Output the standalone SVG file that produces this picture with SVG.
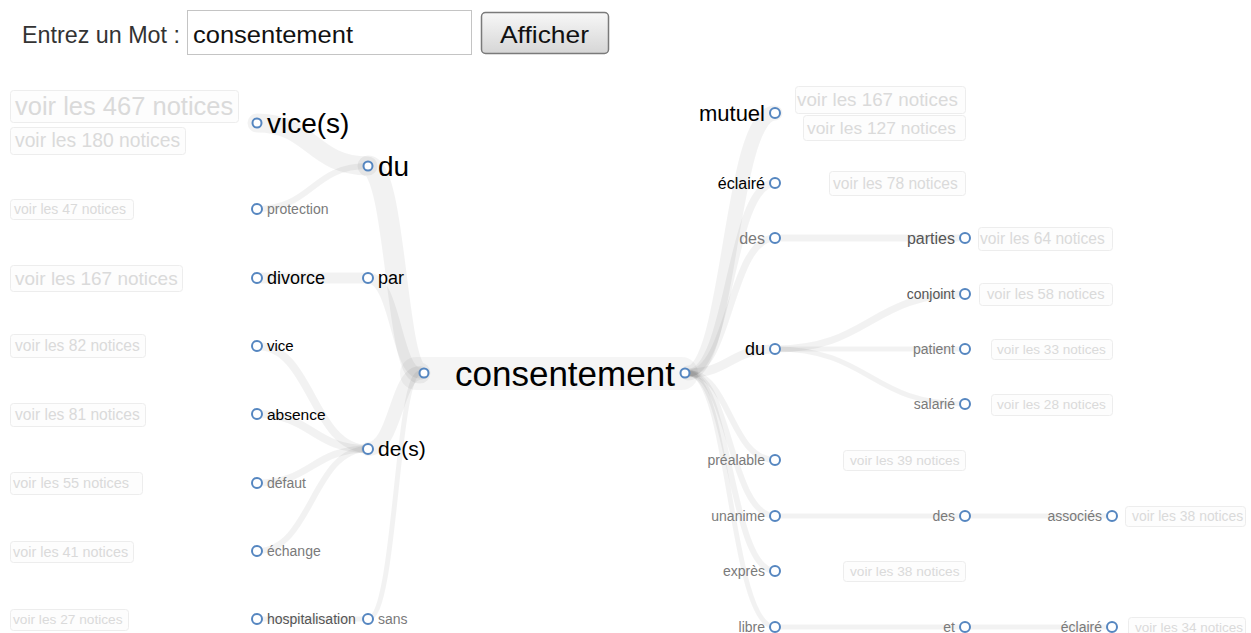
<svg xmlns="http://www.w3.org/2000/svg" width="1251" height="633" viewBox="0 0 1251 633">
<defs>
<linearGradient id="btn" x1="0" y1="0" x2="0" y2="1">
<stop offset="0" stop-color="#f7f7f7"/>
<stop offset="1" stop-color="#d6d6d6"/>
</linearGradient>
</defs>
<style>
text{font-family:"Liberation Sans",Arial,sans-serif}
.band{fill:none;stroke:#000;stroke-opacity:0.05;stroke-linecap:round}
.dot{fill:#fff;stroke:#5586c0;stroke-width:2}
.k{fill:#000}
.g{fill:#7a7a7a}
.d{fill:#555}
.vb{fill:#fdfdfd;stroke:#ededed;stroke-width:1}
.vt{fill:#dadada}
</style>
<rect width="1251" height="633" fill="#fff"/>

<g id="header">
<text x="22" y="43" font-size="24" fill="#333" textLength="158" lengthAdjust="spacingAndGlyphs">Entrez un Mot :</text>
<rect x="187.5" y="10.5" width="284" height="44" fill="#fff" stroke="#c4c4c4"/>
<text x="193" y="43" font-size="24" fill="#111" textLength="160" lengthAdjust="spacingAndGlyphs">consentement</text>
<rect x="481.5" y="12.5" width="127" height="41" rx="4" fill="url(#btn)" stroke="#7a7a7a" stroke-width="1.5"/>
<text x="500" y="43" font-size="24" fill="#111" textLength="89" lengthAdjust="spacingAndGlyphs">Afficher</text>
</g>

<g id="connectors">
<rect x="400" y="357" width="298" height="33" rx="16" fill="#000" fill-opacity="0.04"/>
<path class="band" stroke-width="21" d="M368,166 C396,166 396,373 420,373"/>
<path class="band" stroke-width="19" d="M257,123 C312,123 312,166 368,166"/>
<path class="band" stroke-width="6" d="M257,209 C312,209 312,166 368,166"/>
<path class="band" stroke-width="11" d="M368,278 C396,278 396,373 420,373"/>
<path class="band" stroke-width="11" d="M257,278 L368,278"/>
<path class="band" stroke-width="14" d="M368,449 C396,449 396,373 420,373"/>
<path class="band" stroke-width="8" d="M257,346 C312,346 312,449 368,449"/>
<path class="band" stroke-width="8" d="M257,414 C312,414 312,449 368,449"/>
<path class="band" stroke-width="7" d="M257,483 C312,483 312,449 368,449"/>
<path class="band" stroke-width="6" d="M257,551 C312,551 312,449 368,449"/>
<path class="band" stroke-width="5" d="M368,619 C396,619 396,373 420,373"/>
<path class="band" stroke-width="5" d="M257,619 L368,619"/>
<path class="band" stroke-width="15" d="M688,373 C730,373 730,113 775,113"/>
<path class="band" stroke-width="8" d="M688,373 C730,373 730,183 775,183"/>
<path class="band" stroke-width="7" d="M688,373 C730,373 730,238 775,238"/>
<path class="band" stroke-width="9" d="M688,373 C730,373 730,349 775,349"/>
<path class="band" stroke-width="6" d="M688,373 C730,373 730,460 775,460"/>
<path class="band" stroke-width="6" d="M688,373 C730,373 730,516 775,516"/>
<path class="band" stroke-width="6" d="M688,373 C730,373 730,571 775,571"/>
<path class="band" stroke-width="5" d="M688,373 C730,373 730,627 775,627"/>
<path class="band" stroke-width="7" d="M775,238 L965,238"/>
<path class="band" stroke-width="7" d="M775,349 C870,349 870,294 965,294"/>
<path class="band" stroke-width="5" d="M775,349 L965,349"/>
<path class="band" stroke-width="5" d="M775,349 C870,349 870,404 965,404"/>
<path class="band" stroke-width="5" d="M775,516 L965,516"/>
<path class="band" stroke-width="5" d="M965,516 L1112,516"/>
<path class="band" stroke-width="5" d="M775,627 L965,627"/>
<path class="band" stroke-width="5" d="M965,627 L1112,627"/>
</g>

<g id="n-consentement">
<circle class="dot" cx="424" cy="373" r="4.5" stroke="#7ea2cc"/>
<text class="k" x="455" y="385.5" font-size="35">consentement</text>
<circle class="dot" cx="685" cy="373" r="4.5" stroke="#7ea2cc"/>
</g>

<g id="n-vices">
<circle class="dot" cx="257" cy="123" r="4.5"/>
<text class="k" x="267" y="132.5" font-size="28">vice(s)</text>
</g>
<g id="n-du-left">
<circle class="dot" cx="368" cy="166" r="4.5"/>
<text class="k" x="378" y="176" font-size="28">du</text>
</g>
<g id="n-protection">
<circle class="dot" cx="257" cy="209" r="5"/>
<text class="g" x="267" y="214" font-size="14">protection</text>
</g>
<g id="n-divorce">
<circle class="dot" cx="257" cy="278" r="5"/>
<text class="k" x="267" y="284" font-size="18">divorce</text>
</g>
<g id="n-par">
<circle class="dot" cx="368" cy="278" r="5"/>
<text class="k" x="378" y="284" font-size="18">par</text>
</g>
<g id="n-vice">
<circle class="dot" cx="257" cy="346" r="5"/>
<text class="k" x="267" y="351" font-size="15">vice</text>
</g>
<g id="n-absence">
<circle class="dot" cx="257" cy="414" r="5"/>
<text class="k" x="267" y="419.5" font-size="15.5">absence</text>
</g>
<g id="n-des-left">
<circle class="dot" cx="368" cy="449" r="5"/>
<text class="k" x="378" y="456" font-size="21">de(s)</text>
</g>
<g id="n-defaut">
<circle class="dot" cx="257" cy="483" r="5"/>
<text class="g" x="267" y="488" font-size="14">défaut</text>
</g>
<g id="n-echange">
<circle class="dot" cx="257" cy="551" r="5"/>
<text class="g" x="267" y="556" font-size="14">échange</text>
</g>
<g id="n-hospitalisation">
<circle class="dot" cx="257" cy="619" r="5"/>
<text class="d" x="267" y="624" font-size="14">hospitalisation</text>
</g>
<g id="n-sans">
<circle class="dot" cx="368" cy="619" r="5"/>
<text class="g" x="378" y="624" font-size="14">sans</text>
</g>

<g id="n-mutuel">
<circle class="dot" cx="775" cy="113" r="5"/>
<text class="k" x="765" y="120.7" font-size="22" text-anchor="end">mutuel</text>
</g>
<g id="n-eclaire">
<circle class="dot" cx="775" cy="183" r="5"/>
<text class="k" x="765" y="188.6" font-size="16" text-anchor="end">éclairé</text>
</g>
<g id="n-des-r">
<circle class="dot" cx="775" cy="238" r="5"/>
<text class="g" x="765" y="243.6" font-size="16" text-anchor="end">des</text>
</g>
<g id="n-du-r">
<circle class="dot" cx="775" cy="349" r="5"/>
<text class="k" x="765" y="355" font-size="18" text-anchor="end">du</text>
</g>
<g id="n-prealable">
<circle class="dot" cx="775" cy="460" r="5"/>
<text class="g" x="765" y="465" font-size="14" text-anchor="end">préalable</text>
</g>
<g id="n-unanime">
<circle class="dot" cx="775" cy="516" r="5"/>
<text class="g" x="765" y="521" font-size="14" text-anchor="end">unanime</text>
</g>
<g id="n-expres">
<circle class="dot" cx="775" cy="571" r="5"/>
<text class="g" x="765" y="576" font-size="14" text-anchor="end">exprès</text>
</g>
<g id="n-libre">
<circle class="dot" cx="775" cy="627" r="5"/>
<text class="g" x="765" y="632" font-size="14" text-anchor="end">libre</text>
</g>
<g id="n-parties">
<circle class="dot" cx="965" cy="238" r="5"/>
<text class="d" x="955" y="243.6" font-size="16" text-anchor="end">parties</text>
</g>
<g id="n-conjoint">
<circle class="dot" cx="965" cy="294" r="5"/>
<text class="d" x="955" y="299" font-size="14" text-anchor="end">conjoint</text>
</g>
<g id="n-patient">
<circle class="dot" cx="965" cy="349" r="5"/>
<text class="g" x="955" y="354" font-size="14" text-anchor="end">patient</text>
</g>
<g id="n-salarie">
<circle class="dot" cx="965" cy="404" r="5"/>
<text class="g" x="955" y="409" font-size="14" text-anchor="end">salarié</text>
</g>
<g id="n-des-r2">
<circle class="dot" cx="965" cy="516" r="5"/>
<text class="g" x="955" y="521" font-size="14" text-anchor="end">des</text>
</g>
<g id="n-et">
<circle class="dot" cx="965" cy="627" r="5"/>
<text class="g" x="955" y="632" font-size="14" text-anchor="end">et</text>
</g>
<g id="n-associes">
<circle class="dot" cx="1112" cy="516" r="5"/>
<text class="g" x="1102" y="521" font-size="14" text-anchor="end">associés</text>
</g>
<g id="n-eclaire2">
<circle class="dot" cx="1112" cy="627" r="5"/>
<text class="g" x="1102" y="632" font-size="14" text-anchor="end">éclairé</text>
</g>

<g id="notices">
<g id="v467"><rect class="vb" x="10.5" y="90.5" width="228" height="32" rx="3"/><text class="vt" x="15" y="115" font-size="25.5">voir les 467 notices</text></g>
<g id="v180"><rect class="vb" x="10.5" y="127.5" width="175" height="27" rx="3"/><text class="vt" x="15" y="147.3" font-size="19.3">voir les 180 notices</text></g>
<g id="v47"><rect class="vb" x="10.5" y="199.5" width="123" height="20" rx="3"/><text class="vt" x="14" y="214" font-size="14">voir les 47 notices</text></g>
<g id="v167l"><rect class="vb" x="10.5" y="265.5" width="172" height="26" rx="3"/><text class="vt" x="15" y="284.6" font-size="19">voir les 167 notices</text></g>
<g id="v82"><rect class="vb" x="10.5" y="334.5" width="135" height="23" rx="3"/><text class="vt" x="15" y="351" font-size="15.6">voir les 82 notices</text></g>
<g id="v81"><rect class="vb" x="10.5" y="403.5" width="135" height="23" rx="3"/><text class="vt" x="15" y="420" font-size="15.6">voir les 81 notices</text></g>
<g id="v55"><rect class="vb" x="10.5" y="472.5" width="132" height="22" rx="3"/><text class="vt" x="13" y="488" font-size="14.5">voir les 55 notices</text></g>
<g id="v41"><rect class="vb" x="10.5" y="541.5" width="123" height="21" rx="3"/><text class="vt" x="13" y="556.5" font-size="14.4">voir les 41 notices</text></g>
<g id="v27"><rect class="vb" x="10.5" y="609.5" width="118" height="21" rx="3"/><text class="vt" x="13" y="624.3" font-size="13.7">voir les 27 notices</text></g>

<g id="v167r"><rect class="vb" x="795.5" y="86.5" width="170" height="27" rx="3"/><text class="vt" x="797" y="106" font-size="18.8">voir les 167 notices</text></g>
<g id="v127"><rect class="vb" x="803.5" y="115.5" width="162" height="25" rx="3"/><text class="vt" x="807" y="133.6" font-size="17.4">voir les 127 notices</text></g>
<g id="v78"><rect class="vb" x="829.5" y="171.5" width="136" height="24" rx="3"/><text class="vt" x="833" y="188.5" font-size="15.6">voir les 78 notices</text></g>
<g id="v64"><rect class="vb" x="978.5" y="227.5" width="134" height="23" rx="3"/><text class="vt" x="980" y="244" font-size="15.6">voir les 64 notices</text></g>
<g id="v58"><rect class="vb" x="979.5" y="283.5" width="133" height="22" rx="3"/><text class="vt" x="987" y="299" font-size="14.7">voir les 58 notices</text></g>
<g id="v33"><rect class="vb" x="991.5" y="339.5" width="121" height="20" rx="3"/><text class="vt" x="997" y="353.8" font-size="13.6">voir les 33 notices</text></g>
<g id="v28"><rect class="vb" x="991.5" y="394.5" width="121" height="21" rx="3"/><text class="vt" x="997" y="409.3" font-size="13.6">voir les 28 notices</text></g>
<g id="v39"><rect class="vb" x="843.5" y="450.5" width="122" height="20" rx="3"/><text class="vt" x="850" y="464.8" font-size="13.7">voir les 39 notices</text></g>
<g id="v38a"><rect class="vb" x="1125.5" y="506.5" width="120" height="20" rx="3"/><text class="vt" x="1132" y="520.9" font-size="13.9">voir les 38 notices</text></g>
<g id="v38b"><rect class="vb" x="843.5" y="561.5" width="122" height="20" rx="3"/><text class="vt" x="850" y="575.8" font-size="13.7">voir les 38 notices</text></g>
<g id="v34"><rect class="vb" x="1128.5" y="617.5" width="117" height="20" rx="3"/><text class="vt" x="1135" y="631.7" font-size="13.5">voir les 34 notices</text></g>
</g>
</svg>
